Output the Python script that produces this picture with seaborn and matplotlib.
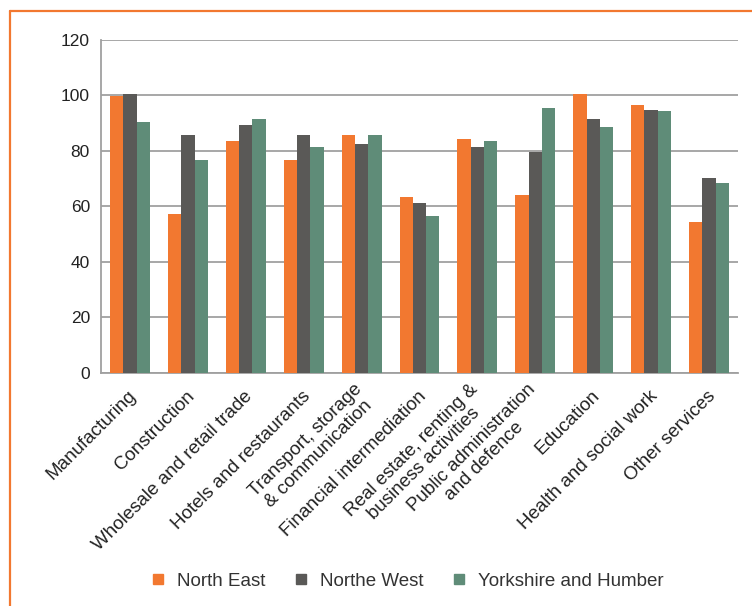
import matplotlib
matplotlib.use("Agg")
import matplotlib.pyplot as plt
from matplotlib.lines import Line2D
from matplotlib.transforms import ScaledTranslation
import seaborn as sns
import pandas as pd

categories = [
    "Manufacturing",
    "Construction",
    "Wholesale and retail trade",
    "Hotels and restaurants",
    "Transport, storage\n& communication",
    "Financial intermediation",
    "Real estate, renting &\nbusiness activities",
    "Public administration\nand defence",
    "Education",
    "Health and social work",
    "Other services",
]
north_east = [99.7, 57.1, 83.4, 76.6, 85.6, 63.2, 84.1, 63.9, 100.4, 96.4, 54.2]
north_west = [100.4, 85.6, 89.2, 85.6, 82.3, 61.1, 81.2, 79.4, 91.3, 94.6, 70.1]
yorkshire = [90.2, 76.6, 91.3, 81.2, 85.6, 56.4, 83.4, 95.3, 88.4, 94.3, 68.3]
series_names = ["North East", "Northe West", "Yorkshire and Humber"]
y_ticks = [0, 20, 40, 60, 80, 100, 120]

colors = ["#F27830", "#5A5957", "#5F8C78"]

rows = []
for name, vals in zip(series_names, [north_east, north_west, yorkshire]):
    for cat, v in zip(categories, vals):
        rows.append({"Sector": cat, "Region": name, "Value": v})
df = pd.DataFrame(rows)

sns.set_theme(style="white")
plt.rcParams["font.family"] = ["Liberation Sans", "DejaVu Sans"]

fig = plt.figure(figsize=(7.52, 6.06), dpi=100)
ax = fig.add_axes([101 / 752, 1 - 373 / 606, 637 / 752, 333.5 / 606])

sns.barplot(data=df, x="Sector", y="Value", hue="Region", palette=colors,
            width=0.69, saturation=1, ax=ax, legend=False, linewidth=0,
            errorbar=None, zorder=3)

ax.set_ylim(0, 120)
ax.set_yticks(y_ticks)
ax.set_xlim(-0.5, len(categories) - 0.5)
ax.yaxis.grid(True, color="#A0A0A0", linewidth=1.3, zorder=0)
ax.set_axisbelow(True)
ax.set_xlabel("")
ax.set_ylabel("")

for side in ["top", "right"]:
    ax.spines[side].set_visible(False)
for side in ["left", "bottom"]:
    ax.spines[side].set_color("#A0A0A0")
    ax.spines[side].set_linewidth(1.3)

ax.tick_params(axis="y", length=0, pad=8, labelsize=12.5, labelcolor="#222222")
ax.tick_params(axis="x", length=0, pad=14)
ax.set_xticks(range(len(categories)))
ax.set_xticklabels(categories, rotation=45, ha="right", va="center",
                   rotation_mode="anchor", fontsize=13.5, color="#222222",
                   multialignment="center", linespacing=1.1)
nudge = ScaledTranslation(4 / 100, -1 / 100, fig.dpi_scale_trans)
for lbl in ax.get_xticklabels():
    lbl.set_transform(lbl.get_transform() + nudge)

handles = [Line2D([], [], marker="s", linestyle="none", markersize=7.5,
                  markerfacecolor=c, markeredgecolor=c) for c in colors]
fig.legend(handles, series_names, loc="center",
           bbox_to_anchor=(407 / 752, 1 - 581 / 606), ncol=3, frameon=False,
           fontsize=13.5, labelcolor="#333333", handletextpad=0.6,
           columnspacing=1.5, handlelength=0.8)

# Orange frame along the top and left edges
frame = "#F27830"
fig.add_artist(Line2D([9.5 / 752, 1], [1 - 11 / 606, 1 - 11 / 606],
                      transform=fig.transFigure, color=frame, linewidth=1.6))
fig.add_artist(Line2D([9.5 / 752, 9.5 / 752], [1 - 11 / 606, 0],
                      transform=fig.transFigure, color=frame, linewidth=1.6))

fig.savefig("out.png", dpi=100, facecolor="white")
